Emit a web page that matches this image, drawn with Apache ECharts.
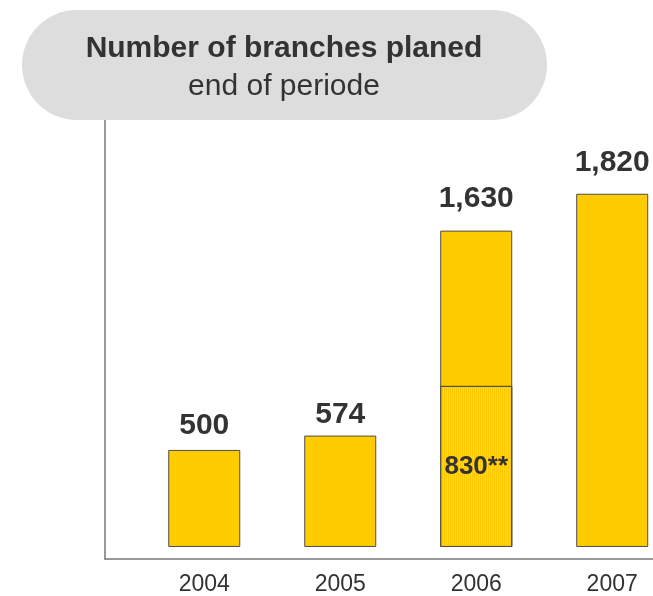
<!DOCTYPE html>
<html>
<head>
<meta charset="utf-8">
<script src="https://cdn.jsdelivr.net/npm/echarts@6/dist/echarts.min.js"></script>
<style>
  html, body { margin: 0; padding: 0; background: #ffffff; }
  #chart { width: 653px; height: 596px; }
</style>
</head>
<body>
<div id="chart"></div>
<script>
// Branches planned at the end of each period
const years = [2004, 2005, 2006, 2007];
const branches = [500, 574, 1630, 1820];
// Part of the 2006 total that carries the "**" footnote
const markedYear = 2006;
const markedPart = 830;

const fmt = v => v.toLocaleString('en-US');
const FONT = '"Liberation Sans", Arial, Helvetica, sans-serif';
const INK = '#333333';
// gap between each total label and its bar
const labelGap = { 2004: 9, 2005: 6, 2006: 17, 2007: 16 };

const totalData = years.map((y, i) => ({
  value: [y, branches[i]],
  label: { distance: labelGap[y] }
}));

const markedData = [{ value: [markedYear, markedPart] }];

const chart = echarts.init(document.getElementById('chart'), null, { renderer: 'canvas' });

chart.setOption({
  animation: false,
  backgroundColor: '#ffffff',
  graphic: [
    {
      type: 'rect',
      shape: { x: 22, y: 10, width: 525, height: 110, r: 55 },
      style: { fill: '#DDDDDD' },
      z: 10
    },
    {
      type: 'text',
      style: {
        text: 'Number of branches planed',
        x: 284, y: 48.5,
        align: 'center', verticalAlign: 'middle',
        font: 'bold 30px ' + FONT,
        fill: INK
      },
      z: 11
    },
    {
      type: 'text',
      style: {
        text: 'end of periode',
        x: 284, y: 86.5,
        align: 'center', verticalAlign: 'middle',
        font: '30px ' + FONT,
        fill: INK
      },
      z: 11
    }
  ],
  grid: { left: 105, right: 0, top: 120, bottom: 37 },
  xAxis: {
    type: 'value',
    min: 2003.27,
    max: 2007.3,
    axisLine: { show: true, onZero: false, lineStyle: { color: '#777777', width: 1.5 } },
    axisTick: { show: false },
    splitLine: { show: false },
    axisLabel: {
      customValues: years,
      formatter: v => String(v),
      margin: 14,
      fontFamily: FONT,
      fontSize: 23,
      color: INK
    }
  },
  yAxis: {
    type: 'value',
    min: -62,
    max: 2200,
    axisLine: { show: true, lineStyle: { color: '#777777', width: 1.5 } },
    axisTick: { show: false },
    axisLabel: { show: false },
    splitLine: { show: false }
  },
  series: [
    {
      name: 'Total',
      type: 'bar',
      barWidth: 72,
      data: totalData,
      itemStyle: { color: '#FFCC00', borderColor: '#4D4D4D', borderWidth: 1 },
      label: {
        show: true,
        position: 'top',
        formatter: p => fmt(p.value[1]),
        fontFamily: FONT,
        fontWeight: 'bold',
        fontSize: 30,
        color: INK
      }
    },
    {
      name: 'Marked',
      type: 'bar',
      barWidth: 72,
      barGap: '-100%',
      data: markedData,
      itemStyle: {
        color: '#FFD43F',
        borderColor: '#4D4D4D',
        borderWidth: 1,
        decal: {
          symbol: 'rect',
          symbolSize: 1,
          dashArrayX: [1, 1],
          dashArrayY: [4, 0],
          color: '#FFC800',
          rotation: 0
        }
      },
      label: {
        show: true,
        position: 'inside',
        formatter: p => fmt(p.value[1]) + '**',
        fontFamily: FONT,
        fontWeight: 'bold',
        fontSize: 26,
        color: INK
      }
    }
  ]
});
</script>
</body>
</html>
